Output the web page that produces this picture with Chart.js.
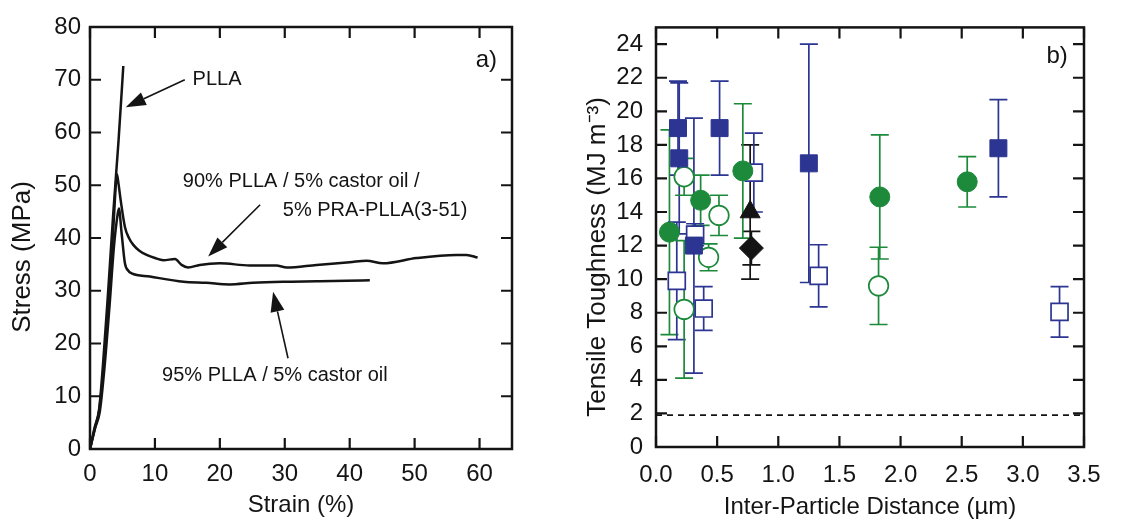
<!DOCTYPE html>
<html><head><meta charset="utf-8">
<script src="https://cdn.jsdelivr.net/npm/chart.js@4.4.0/dist/chart.umd.min.js"></script>
<style>
html,body{margin:0;padding:0;background:#fff;}
#wrap{position:relative;width:1121px;height:525px;overflow:hidden;background:#fff;}
.pane{position:absolute;top:0;height:525px;}
</style></head><body>
<div id="wrap">
  <div class="pane" style="left:0;width:560px"><canvas id="c1" width="560" height="525"></canvas></div>
  <div class="pane" style="left:560px;width:561px"><canvas id="c2" width="561" height="525"></canvas></div>
</div>
<script>
// ---------- Panel a) stress–strain curves ----------
const strainPLLA = [0, 0.7, 1.4, 2.0, 2.8, 3.6, 4.4, 5.13];
const stressPLLA = [0, 4.0, 7.5, 16, 30, 45, 58.5, 72.6];

const strain90 = [0, 0.8, 1.4, 2.1, 2.9, 3.6, 4.0, 4.15, 4.4, 4.72, 5.38, 6.0, 6.67, 7.6, 8.72, 10.0, 11.3, 13.1, 14.1, 15.1, 16.9, 20, 24.6, 28.7, 30.3, 34.9, 40, 42.6, 45.1, 50.3, 56.4, 58, 59.7];
const stress90 = [0, 4.2, 7.2, 15.5, 28, 42, 50.5, 52.1, 50.2, 47.2, 42.1, 40.0, 38.7, 37.6, 36.8, 36.2, 35.8, 36.0, 34.9, 34.4, 34.9, 35.2, 34.8, 34.8, 34.4, 34.9, 35.4, 35.7, 35.2, 36.2, 36.8, 36.8, 36.3];

const strain95 = [0, 0.8, 1.5, 2.2, 3.0, 3.7, 4.2, 4.45, 4.87, 5.38, 5.9, 6.41, 9.23, 14.4, 17.9, 21.5, 25.1, 29.7, 34.9, 39.5, 43.1];
const stress95 = [0, 4.0, 7.0, 15, 27, 38.5, 44, 45.6, 40.9, 35.2, 33.8, 33.3, 32.7, 31.7, 31.5, 31.2, 31.5, 31.7, 31.8, 31.9, 32.0];

const aXTicks = [0, 10, 20, 30, 40, 50, 60];
const aYTicks = [0, 10, 20, 30, 40, 50, 60, 70, 80];

// ---------- Panel b) toughness vs inter-particle distance ----------
const blueFilledX = [0.18, 0.19, 0.31, 0.52, 1.25, 2.80];
const blueFilledY = [19.0, 17.2, 12.0, 19.0, 16.9, 17.8];
const blueFilledErr = [2.8, 4.5, 7.6, 2.8, 7.1, 2.9];

const blueOpenX = [0.17, 0.32, 0.39, 0.80, 1.33, 3.30];
const blueOpenY = [9.9, 12.65, 8.25, 16.35, 10.2, 8.05];
const blueOpenErr = [3.5, 0.65, 1.3, 2.35, 1.85, 1.5];

const greenFilledX = [0.11, 0.365, 0.71, 1.83, 2.545];
const greenFilledY = [12.8, 14.7, 16.45, 14.9, 15.8];
const greenFilledErr = [6.1, 1.5, 4.0, 3.7, 1.5];

const greenOpenX = [0.23, 0.23, 0.43, 0.515, 1.82];
const greenOpenY = [16.1, 8.2, 11.3, 13.8, 9.6];
const greenOpenErr = [1.1, 4.1, 0.8, 1.2, 2.3];

const triX = [0.77], triY = [14.0], triErr = [4.0];
const diaX = [0.78], diaY = [11.85], diaErr = [1.0];

const refLineX = [0, 3.5];
const refLineY = [1.9, 1.9];

const bXTicks = [0, 0.5, 1.0, 1.5, 2.0, 2.5, 3.0, 3.5];
const bYTicks = [0, 2, 4, 6, 8, 10, 12, 14, 16, 18, 20, 22, 24];

// ---------- helpers ----------
const pts = (xs, ys) => xs.map((x, i) => ({x, y: ys[i]}));
const FONT = '"Liberation Sans", Arial, Helvetica, sans-serif';
const INK = '#141414';
const BLUE = '#2c3591';
const GREEN = '#1d8a3b';
Chart.defaults.font.family = FONT;
Chart.defaults.color = INK;

const framePlugin = {
  id: 'frame',
  afterDraw(chart, args, o) {
    const {ctx, chartArea: a, scales: {x, y}} = chart;
    ctx.save();
    ctx.strokeStyle = INK;
    ctx.lineWidth = o.tickWidth;
    ctx.beginPath();
    x.ticks.forEach(t => {
      const px = x.getPixelForValue(t.value);
      ctx.moveTo(px, a.bottom); ctx.lineTo(px, a.bottom - o.len);
      ctx.moveTo(px, a.top); ctx.lineTo(px, a.top + o.len);
    });
    y.ticks.forEach(t => {
      const py = y.getPixelForValue(t.value);
      ctx.moveTo(a.left, py); ctx.lineTo(a.left + o.len, py);
      ctx.moveTo(a.right, py); ctx.lineTo(a.right - o.len, py);
    });
    ctx.stroke();
    ctx.lineWidth = o.lineWidth;
    ctx.strokeRect(a.left, a.top, a.right - a.left, a.bottom - a.top);
    // rotated y-axis title
    ctx.fillStyle = INK;
    ctx.font = o.titleSize + 'px ' + FONT;
    ctx.textAlign = 'center';
    ctx.textBaseline = 'middle';
    ctx.translate(o.titleX, o.titleY);
    ctx.rotate(-Math.PI / 2);
    ctx.fillText(o.title, 0, 0);
    ctx.restore();
  }
};

const errorBarPlugin = {
  id: 'errbars',
  beforeDatasetsDraw(chart, args, o) {
    const {ctx, scales: {x, y}} = chart;
    ctx.save();
    ctx.lineWidth = o.lineWidth;
    chart.data.datasets.forEach(ds => {
      if (!ds.errors) return;
      ctx.strokeStyle = ds.errorColor;
      ds.data.forEach((p, i) => {
        const e = ds.errors[i];
        const px = x.getPixelForValue(p.x);
        const t = y.getPixelForValue(p.y + e);
        const b = y.getPixelForValue(p.y - e);
        ctx.beginPath();
        ctx.moveTo(px, t); ctx.lineTo(px, b);
        ctx.moveTo(px - o.cap, t); ctx.lineTo(px + o.cap, t);
        ctx.moveTo(px - o.cap, b); ctx.lineTo(px + o.cap, b);
        ctx.stroke();
      });
    });
    ctx.restore();
  }
};

const notePlugin = {
  id: 'notes',
  afterDraw(chart, args, o) {
    const {ctx, scales: {x, y}} = chart;
    ctx.save();
    ctx.fillStyle = INK; ctx.strokeStyle = INK;
    (o.texts || []).forEach(t => {
      ctx.font = t.size + 'px ' + FONT;
      ctx.textAlign = t.align || 'left';
      ctx.textBaseline = 'middle';
      ctx.fillText(t.text, x.getPixelForValue(t.x), y.getPixelForValue(t.y));
    });
    (o.arrows || []).forEach(a => {
      const x0 = x.getPixelForValue(a.from[0]), y0 = y.getPixelForValue(a.from[1]);
      const x1 = x.getPixelForValue(a.to[0]), y1 = y.getPixelForValue(a.to[1]);
      const ang = Math.atan2(y1 - y0, x1 - x0);
      const L = 20, W = 7;
      const bx = x1 - L * Math.cos(ang), by = y1 - L * Math.sin(ang);
      ctx.lineWidth = 1.6;
      ctx.beginPath(); ctx.moveTo(x0, y0); ctx.lineTo(bx, by); ctx.stroke();
      ctx.beginPath();
      ctx.moveTo(x1, y1);
      ctx.lineTo(bx + W * Math.sin(ang), by - W * Math.cos(ang));
      ctx.lineTo(bx - W * Math.sin(ang), by + W * Math.cos(ang));
      ctx.closePath(); ctx.fill();
    });
    ctx.restore();
  }
};

const curve = (label, xs, ys) => ({
  label, data: pts(xs, ys), showLine: true, borderColor: INK, borderWidth: 2.5,
  pointRadius: 0, cubicInterpolationMode: 'monotone', fill: false
});

// ---------- Chart a ----------
new Chart(document.getElementById('c1'), {
  type: 'scatter',
  data: {
    datasets: [
      curve('PLLA', strainPLLA, stressPLLA),
      curve('90% PLLA / 5% castor oil / 5% PRA-PLLA(3-51)', strain90, stress90),
      curve('95% PLLA / 5% castor oil', strain95, stress95)
    ]
  },
  options: {
    responsive: false, animation: false,
    layout: {padding: {left: 0, top: 27, right: 48, bottom: 0}},
    plugins: {
      legend: {display: false}, tooltip: {enabled: false},
      frame: {len: 11, lineWidth: 2.5, tickWidth: 2.2, title: 'Stress (MPa)', titleX: 23, titleY: 257, titleSize: 26},
      notes: {
        texts: [
          {text: 'PLLA', x: 15.8, y: 70.1, size: 20},
          {text: '90% PLLA / 5% castor oil /', x: 14.3, y: 50.7, size: 20},
          {text: '5% PRA-PLLA(3-51)', x: 29.7, y: 45.3, size: 20},
          {text: '95% PLLA / 5% castor oil', x: 11.1, y: 14.0, size: 20},
          {text: 'a)', x: 62.7, y: 73.7, size: 24, align: 'right'}
        ],
        arrows: [
          {from: [14.6, 70.0], to: [5.5, 64.8]},
          {from: [26.2, 46.3], to: [18.2, 36.5]},
          {from: [30.5, 17.2], to: [28.2, 29.8]}
        ]
      }
    },
    scales: {
      x: {
        type: 'linear', min: 0, max: 65,
        afterBuildTicks: s => { s.ticks = aXTicks.map(v => ({value: v})); },
        afterFit: s => { s.height = 76; },
        grid: {display: false, drawTicks: false}, border: {display: false},
        ticks: {padding: 11, font: {size: 24}, maxRotation: 0, autoSkip: false},
        title: {display: true, text: 'Strain (%)', font: {size: 24}, padding: {top: 0, bottom: 5}}
      },
      y: {
        type: 'linear', min: 0, max: 80,
        afterBuildTicks: s => { s.ticks = aYTicks.map(v => ({value: v})); },
        afterFit: s => { s.width = 90; },
        grid: {display: false, drawTicks: false}, border: {display: false},
        ticks: {padding: 9, font: {size: 24}, autoSkip: false}
      }
    }
  },
  plugins: [framePlugin, notePlugin]
});

// ---------- Chart b ----------
const marker = (label, xs, ys, errs, style, radius, fill, color, bw) => ({
  label, data: pts(xs, ys), errors: errs, errorColor: color,
  pointStyle: style, pointRadius: radius, pointHoverRadius: radius,
  backgroundColor: fill, borderColor: color, pointBorderWidth: bw, borderWidth: bw,
  showLine: false
});

new Chart(document.getElementById('c2'), {
  type: 'scatter',
  data: {
    datasets: [
      marker('blue filled', blueFilledX, blueFilledY, blueFilledErr, 'rect', 12, BLUE, BLUE, 1),
      marker('black triangle', triX, triY, triErr, 'triangle', 11.5, INK, INK, 1),
      marker('black diamond', diaX, diaY, diaErr, 'rectRot', 12, INK, INK, 1),
      marker('green filled', greenFilledX, greenFilledY, greenFilledErr, 'circle', 10, GREEN, GREEN, 1),
      marker('blue open', blueOpenX, blueOpenY, blueOpenErr, 'rect', 12, '#ffffff', BLUE, 1.7),
      marker('green open', greenOpenX, greenOpenY, greenOpenErr, 'circle', 9.8, '#ffffff', GREEN, 1.7),
      {
        label: 'reference', data: pts(refLineX, refLineY), showLine: true,
        borderColor: INK, borderWidth: 1.6, borderDash: [6, 5], pointRadius: 0, fill: false
      }
    ]
  },
  options: {
    responsive: false, animation: false,
    layout: {padding: {left: 0, top: 24, right: 37, bottom: 0}},
    plugins: {
      legend: {display: false}, tooltip: {enabled: false},
      errbars: {lineWidth: 1.7, cap: 9},
      frame: {len: 11, lineWidth: 2.5, tickWidth: 2.2, title: 'Tensile Toughness (MJ m⁻³)', titleX: 38, titleY: 257, titleSize: 26},
      notes: {texts: [{text: 'b)', x: 3.28, y: 23.25, size: 24, align: 'center'}]}
    },
    scales: {
      x: {
        type: 'linear', min: 0, max: 3.5,
        afterBuildTicks: s => { s.ticks = bXTicks.map(v => ({value: v})); },
        afterFit: s => { s.height = 78; },
        grid: {display: false, drawTicks: false}, border: {display: false},
        ticks: {padding: 14, font: {size: 24}, maxRotation: 0, autoSkip: false, callback: v => Number(v).toFixed(1)},
        title: {display: true, text: 'Inter-Particle Distance (µm)', font: {size: 24}, padding: {top: 0, bottom: 3}}
      },
      y: {
        type: 'linear', min: 0, max: 25,
        afterBuildTicks: s => { s.ticks = bYTicks.map(v => ({value: v})); },
        afterFit: s => { s.width = 96; },
        grid: {display: false, drawTicks: false}, border: {display: false},
        ticks: {padding: 13, font: {size: 24}, autoSkip: false}
      }
    }
  },
  plugins: [errorBarPlugin, framePlugin, notePlugin]
});
</script>
</body></html>
